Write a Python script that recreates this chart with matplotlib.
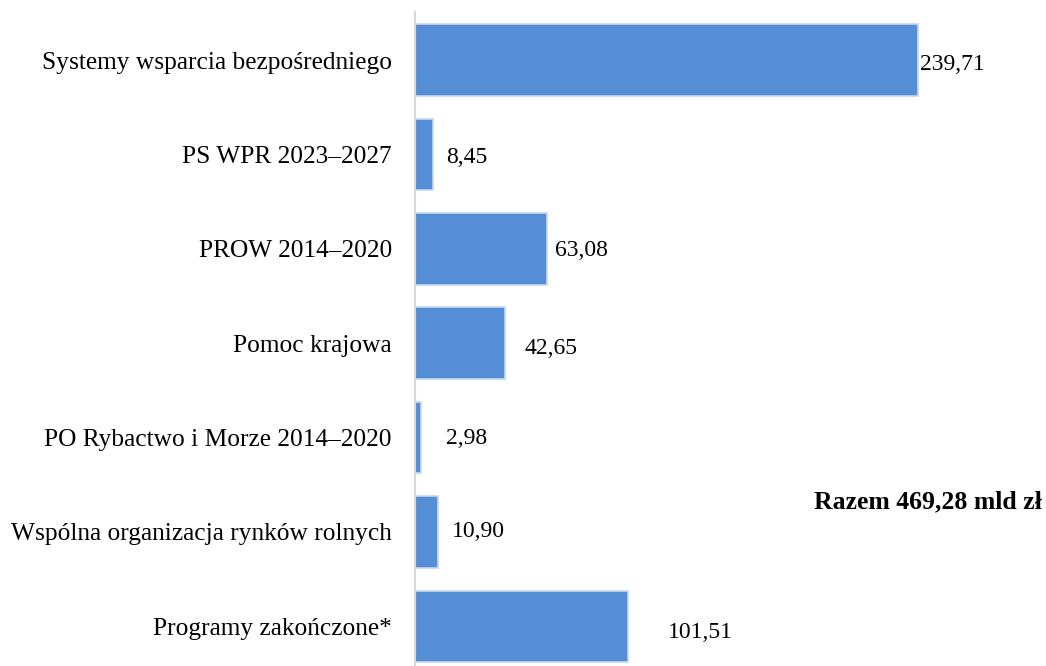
import matplotlib
matplotlib.use("Agg")
import matplotlib.pyplot as plt

categories = [
    "Systemy wsparcia bezpośredniego",
    "PS WPR 2023–2027",
    "PROW 2014–2020",
    "Pomoc krajowa",
    "PO Rybactwo i Morze 2014–2020",
    "Wspólna organizacja rynków rolnych",
    "Programy zakończone*",
]
values = [239.71, 8.45, 63.08, 42.65, 2.98, 10.90, 101.51]
value_labels = ["239,71", "8,45", "63,08", "42,65", "2,98", "10,90", "101,51"]
total_label = "Razem 469,28 mld zł"

# label offsets in pixels (dx, dy) from bar end
label_dx = [2, 13, 8, 20, 25, 14, 40]
label_dy = [-4, -3, -2, -5, -1, 0, -6]

plt.rcParams['font.family'] = ['Liberation Serif', 'DejaVu Serif']

fig = plt.figure(figsize=(10.46, 6.66), dpi=100)
ax = fig.add_axes([415/1046, 0, 1 - 415/1046, 1 - 12/666])

pos = list(range(len(categories)))
ax.barh(pos, values, height=0.76, color='#558ed5', edgecolor='#c6d9f1', linewidth=1.2)
ax.set_ylim(len(categories) - 1 + 0.42, -0.51)
ax.set_xlim(0, 300.5)

for p, v, lab, dx, dy in zip(pos, values, value_labels, label_dx, label_dy):
    ax.annotate(lab, (v, p), xytext=(dx * 0.72, dy * 0.72), textcoords='offset points',
                ha='left', va='center', fontsize=17, color='black')

ax.set_yticks(pos)
ax.set_yticklabels(categories, fontsize=18.3)
ax.tick_params(axis='y', length=0, pad=23 * 0.72)
ax.set_xticks([])
for s in ['top', 'right', 'bottom']:
    ax.spines[s].set_visible(False)
ax.spines['left'].set_color('#d9d9d9')
ax.spines['left'].set_linewidth(1.5)

fig.text(814/1046, 1 - 502/666, total_label, fontsize=18.5, fontweight='bold',
         ha='left', va='center')

fig.savefig('out.png', dpi=100)
